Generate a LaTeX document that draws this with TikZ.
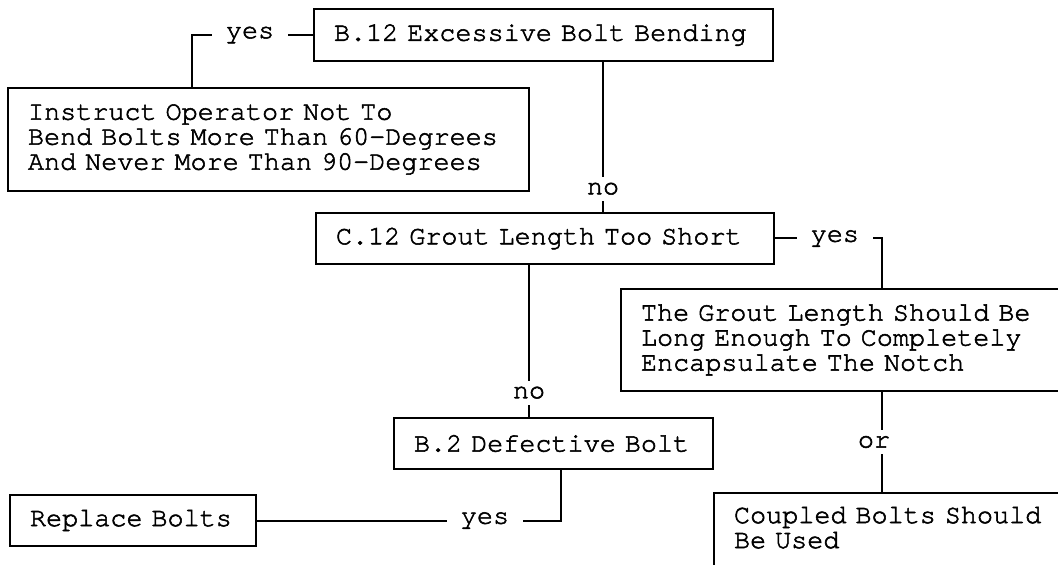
\documentclass[tikz,border=0pt]{standalone}
\usepackage{fontspec}
\newfontfamily\chartfont[FakeBold=2]{TeX Gyre Cursor}
\usetikzlibrary{calc}

\begin{document}
\begin{tikzpicture}[
    x=0.5pt, y=-0.5pt,
    every node/.style={font=\chartfont\fontsize{13.4}{12.5}\selectfont},
    box/.style={
        rectangle,
        draw=black,
        line width=1pt,
        anchor=north west,
        align=left,
        inner xsep=10pt,
        inner ysep=0pt
    },
    answer/.style={fill=white, inner xsep=7pt, inner ysep=3pt},
    link/.style={line width=1pt}
]

\useasboundingbox (0,0) rectangle (1058,565);
\clip (0,0) rectangle (1058,565);
\fill[white] (0,0) rectangle (1058,565);

\node (b12) [box, text width=209.5pt, minimum height=26pt] at (313,8)
    {B.12 Excessive Bolt Bending};

\node (instruct) [box, text width=240.5pt, minimum height=51.5pt] at (7,87)
    {Instruct Operator Not To\\Bend Bolts More Than 60-Degrees\\And Never More Than 90-Degrees};

\node (c12) [box, text width=209pt, minimum height=25.5pt] at (315,212)
    {C.12 Grout Length Too Short};

\node (b2) [box, text width=139.5pt, minimum height=25.5pt] at (393,417)
    {B.2 Defective Bolt};

\node (replace) [box, text width=103pt, minimum height=25.5pt] at (9,494)
    {Replace Bolts};

\node (grout) [box, text width=230pt, minimum height=51pt] at (620,288)
    {The Grout Length Should Be\\Long Enough To Completely\\Encapsulate The Notch};

\node (coupled) [box, text width=200pt, minimum height=47pt] at (713,492)
    {Coupled Bolts Should\\Be Used\\\mbox{}};

% connection points
\coordinate (instruct in) at ($(instruct.north west)+(185,0)$);
\coordinate (b12 no) at ($(b12.south west)+(290,0)$);
\coordinate (c12 no) at ($(c12.south west)+(214,0)$);
\coordinate (b2 yes) at ($(b2.south west)+(168,0)$);
\coordinate (grout in) at ($(grout.north west)+(262,0)$);

% Lines
\draw[link] (b12.west) -| node[answer, pos=0.26] {yes} (instruct in);
\draw[link] (b12 no) -- node[answer, pos=0.845] {no} (b12 no |- c12.north);
\draw[link] (c12 no) -- node[answer, pos=0.84] {no} (c12 no |- b2.north);
\draw[link] (b2 yes) |- node[answer, pos=0.625] {yes} (replace.east);
\draw[link] (c12.east) -| node[answer, pos=0.28] {yes} (grout in);
\draw[link] (grout in |- grout.south) -- node[answer, xshift=-4pt] {or} (grout in |- coupled.north);

\end{tikzpicture}
\end{document}
